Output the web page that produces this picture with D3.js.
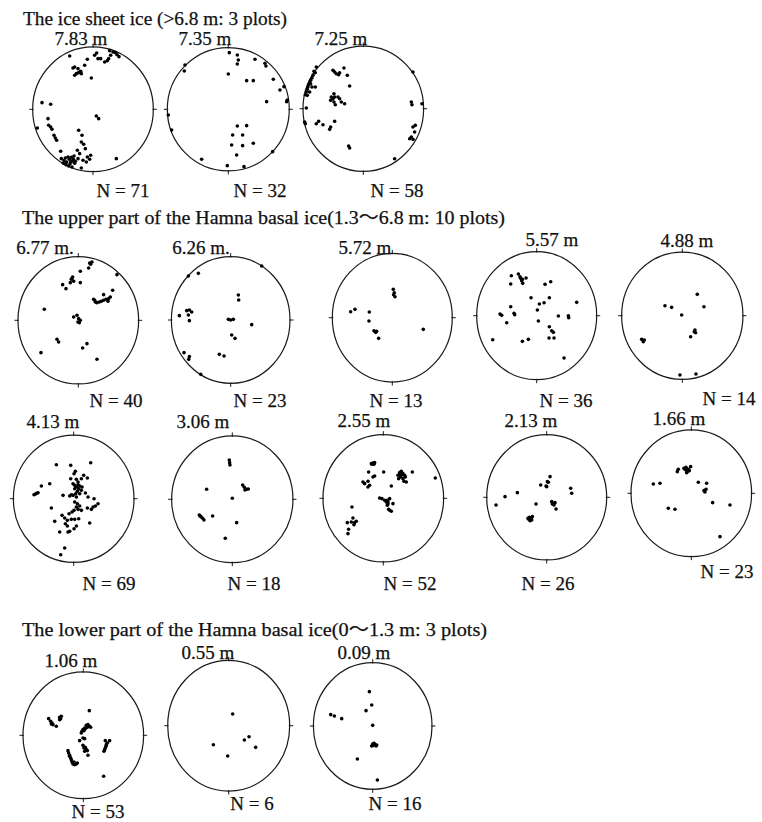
<!DOCTYPE html>
<html><head><meta charset="utf-8">
<script src="https://cdn.jsdelivr.net/npm/d3@7"></script>
<style>
body{margin:0;background:#fff}
svg text{font-family:"Liberation Serif","Times New Roman","Noto Sans CJK JP",serif;fill:#111;stroke:#111;stroke-width:0.25}
</style></head>
<body><svg id="chart" width="762" height="822"></svg>
<script>
// ---------- DATA ----------
const groupTitles = [
  "The ice sheet ice (>6.8 m: 3 plots)",
  "The upper part of the Hamna basal ice(1.3\uFF5E6.8 m: 10 plots)",
  "The lower part of the Hamna basal ice(0\uFF5E1.3 m: 3 plots)"
];
const depths = ["7.83 m","7.35 m","7.25 m","6.77 m.","6.26 m.","5.72 m","5.57 m","4.88 m",
  "4.13 m","3.06 m","2.55 m","2.13 m","1.66 m","1.06 m","0.55 m","0.09 m"];
const counts = [71,32,58,40,23,13,36,14,69,18,52,26,23,53,6,16];
// net radius (projection units) horizontally / vertically (scan is slightly stretched)
const netRx = [181,183,181,181,178,180,180,182,181,182,181,180,181,181,183,178];
const netRy = [187,185,188,191,190,193,192,191,191,190,191,188,190,190,196,190];

// c-axis poles, projection coordinates (x east, y north)
const p783 = [[-70,160],[-17,150],[11,169],[15,152],[23,152],[35,142],[47,152],[53,162],[50,176],[67,170],
 [72,164],[78,158],[-25,132],[-55,127],[-45,122],[-37,114],[-50,107],[-55,102],[-35,107],[-5,94],
 [-43,110],[-153,20],[-127,15],[10,-20],[17,-28],[-167,-56],[-135,-28],[-133,-48],[-127,-53],[-123,-60],
 [-117,-78],[-113,-86],[-109,-93],[-43,-63],[-33,-78],[-35,-98],[-47,-123],[-23,-118],[-97,-126],[-95,-148],
 [-87,-154],[-79,-158],[-71,-150],[-65,-144],[-59,-150],[-67,-158],[-89,-162],[-81,-166],[-73,-170],[-63,-173],
 [-55,-162],[-45,-148],[-35,-176],[-30,-153],[-20,-158],[-10,-150],[-7,-138],[70,-148],[-75,-143],[-63,-156],
 [-57,-140],[-53,-156],[-69,-164],[-83,-146],[-17,-143],[-40,-133],[-28,-105],[43,146],[60,172],[5,162],[-60,124]];
const p735 = [[3,170],[27,163],[30,148],[27,136],[-130,133],[-132,115],[80,150],[110,138],[113,130],[0,106],
 [55,86],[75,86],[135,90],[167,68],[155,58],[177,28],[115,23],[-180,-17],[-170,-62],[27,-50],
 [55,-49],[13,-77],[43,-77],[75,-102],[10,-107],[25,-137],[43,-109],[133,-127],[-80,-150],[-3,-169],
 [47,-172],[175,23]];
const p725 = [[-141,125],[-144,108],[-151,100],[-154,92],[-158,85],[-161,78],[-164,72],[-166,65],[-168,58],[-171,50],
 [-174,42],[-168,40],[-161,50],[-154,65],[-158,75],[-144,65],[-171,2],[-176,-40],[-174,-45],[-148,112],
 [-91,115],[-86,110],[-81,105],[-74,102],[-71,108],[-58,122],[-48,100],[-41,68],
 [-96,35],[-91,30],[-98,25],[-86,35],[-88,45],[-76,35],[-71,30],[-88,20],[-84,12],[-66,20],[-56,15],
 [-141,-45],[-134,-38],[-121,-48],[-98,-55],[-101,-62],[-86,-38],[-44,-112],[-41,-118],[94,-150],
 [149,110],[144,20],[146,12],[176,15],[149,-55],[156,-50],[154,-70],[144,-85],[139,-90],[149,-92]];
const p677 = [[34,172],[41,175],[37,168],[31,157],[6,147],[116,137],[-17,130],[-21,123],[-14,117],[-24,113],
 [-19,125],[6,113],[-47,107],[-37,95],[103,90],[76,77],[46,63],[51,55],[56,53],[63,55],
 [69,57],[76,60],[83,63],[91,65],[96,70],[89,57],[49,60],[-102,33],[-14,10],[-4,15],
 [1,5],[-1,-5],[6,0],[-64,-57],[-59,-65],[26,-70],[13,-83],[-112,-97],[56,-117],[3,-7]];
const p626 = [[93,162],[-127,132],[-97,140],[-154,13],[-132,28],[-124,30],[-117,24],[-127,15],[-124,-2],[23,75],
 [24,60],[-7,2],[0,0],[8,2],[63,-14],[3,-45],[13,-55],[-140,-98],[-124,-110],[-126,-118],
 [-34,-103],[-20,-108],[-90,-163]];
const p572 = [[3,85],[6,75],[8,63],[4,69],[-125,18],[-112,25],[-69,17],[-70,-10],[-55,-39],[-50,-44],
 [-47,-41],[-41,-62],[93,-35]];
const p557 = [[-76,120],[-55,125],[-48,112],[-43,109],[-32,113],[-50,117],[-78,95],[-42,97],[25,94],[42,102],
 [-17,54],[38,54],[8,35],[22,39],[2,17],[120,40],[-78,27],[-110,5],[-105,1],[-68,7],
 [-66,3],[-90,-21],[5,-16],[65,-1],[95,0],[96,-6],[38,-33],[45,-45],[50,-50],[37,-67],
 [52,-67],[-132,-72],[-43,-77],[-25,-71],[82,-127],[-45,105]];
const p488 = [[45,64],[65,27],[-52,30],[-32,25],[-2,2],[38,-43],[40,-51],[36,-48],[25,-63],[-122,-71],
 [-117,-78],[-114,-73],[-7,-178],[41,-175]];
const p413 = [[-52,102],[-9,100],[51,108],[5,82],[1,75],[-9,60],[8,58],[23,60],[41,62],[-97,38],
 [-72,45],[-119,12],[-115,14],[-111,16],[-107,18],[-2,45],[3,40],[8,35],[13,42],[18,38],
 [15,30],[3,30],[23,25],[11,22],[18,15],[6,15],[-2,10],[-7,12],[-12,8],[-32,10],
 [35,17],[43,5],[61,0],[73,-15],[3,-10],[11,-15],[8,-25],[18,-22],[13,-32],[23,-35],
 [1,-35],[58,-25],[53,-32],[65,-22],[-67,-28],[41,-28],[-35,-50],[-27,-58],[-19,-65],[-25,-75],
 [-7,-62],[3,-62],[15,-60],[-57,-68],[48,-73],[8,-82],[1,-90],[-17,-100],[-12,-98],[-19,-82],
 [-42,-100],[-27,-148],[-39,-168],[-5,-40],[-14,-45],[30,70],[13,50],[25,35],[8,5]];
const p306 = [[-9,118],[-7,103],[-77,30],[31,43],[36,36],[43,30],[48,31],[38,28],[0,3],[-99,-47],
 [-94,-52],[-89,-57],[-85,-62],[-97,-50],[-59,-50],[13,-70],[-21,-117],[-8,110]];
const p255 = [[-36,104],[-31,106],[-26,107],[-34,102],[-28,102],[-44,79],[-31,64],[-26,67],[-61,49],[-56,44],
 [-46,51],[-41,39],[-46,34],[1,79],[24,37],[49,77],[54,81],[59,74],[64,69],[52,64],
 [46,59],[59,59],[66,64],[62,51],[69,49],[56,71],[44,69],[87,79],[156,61],[49,71],
 [-11,1],[-4,-1],[4,-6],[9,-11],[14,-16],[12,-6],[19,-1],[29,-16],[19,-36],[24,-39],
 [16,-33],[12,-21],[14,-11],[-94,-26],[-91,-59],[-96,-71],[-86,-73],[-81,-69],[-108,-73],[-104,-93],
 [-106,-106],[-88,-79]];
const p213 = [[10,62],[2,47],[0,32],[-18,37],[-88,14],[-125,2],[-152,-23],[-32,-20],[15,-13],[20,-18],
 [25,-16],[28,-35],[72,27],[75,12],[-52,-60],[-48,-63],[-45,-68],[-54,-66],[-50,-70],[-43,-58],
 [-56,-63],[5,45],[17,-20],[22,-23],[-47,-66],[-2,34]];
const p166 = [[-42,65],[-39,72],[-22,75],[-16,70],[-12,65],[-9,72],[-2,80],[-14,62],[-16,78],[-6,68],
 [-19,72],[-114,28],[-94,30],[21,33],[46,30],[38,8],[44,12],[41,4],[64,-28],[116,-35],
 [-69,-45],[-49,-48],[86,-130]];
const p106 = [[-104,50],[-98,42],[-94,37],[-91,32],[-96,34],[-81,27],[-71,54],[-68,50],[-66,57],[-71,47],
 [18,74],[-1,17],[4,22],[9,30],[14,32],[19,27],[22,24],[-4,12],[2,14],[6,20],
 [12,24],[-11,-16],[-1,-8],[4,-10],[2,-38],[9,-43],[6,-36],[14,-60],[12,-46],[-1,-30],
 [-46,-46],[-44,-53],[-41,-60],[-38,-68],[-36,-73],[-34,-80],[-31,-86],[-26,-88],[-21,-86],[-18,-83],
 [-28,-80],[66,-16],[79,-16],[69,-28],[66,-38],[64,-43],[62,-48],[68,-33],[72,-23],[61,-123],
 [-6,7],[4,-48],[-41,-63]];
const p055 = [[12,35],[-46,-57],[-3,-91],[47,-43],[61,-33],[81,-65]];
const p009 = [[-10,103],[-3,63],[-20,46],[-126,34],[-115,30],[-93,22],[0,2],[0,-54],[7,-56],[12,-57],
 [4,-52],[-3,-60],[2,-58],[10,-60],[-46,-99],[14,-162]];
const allPoints = [p783,p735,p725,p677,p626,p572,p557,p488,p413,p306,p255,p213,p166,p106,p055,p009];

// ---------- LAYOUT (pixels) ----------
const centers = [[93,109.3],[228.3,109.3],[363.3,108.7],[78.3,320.3],[230.7,320],[392.3,317.7],[536.7,315.7],[682.3,315.7],
  [73.7,498.7],[232.3,499.3],[383.3,498.3],[546.7,497.3],[691.3,493.3],[83.3,735.3],[228.7,725.7],[372.7,726]];
const depthPos = [[81,45],[205,45],[341,45],[45,254],[201,254],[365,254],[552,246],[687,247],
  [53,428],[203,428],[364,427],[531,427],[679,425],[71,667],[208,659],[364,659]];
const nPos = [[123,197],[260,197],[397,197],[116,407],[260,407],[396,407],[566,407],[729,405],
  [109,590],[254,590],[410,590],[548,590],[727,578],[98,818],[252,810],[395,810]];
const titlePos = [[23,25],[22,224],[22,636]];
const titleLen = [264,483,465];
const PX = 1/3; // pixels per projection unit

const svg = d3.select("#chart");

svg.selectAll("text.title").data(groupTitles).join("text")
  .attr("class","title")
  .attr("x",(d,i)=>titlePos[i][0]).attr("y",(d,i)=>titlePos[i][1])
  .attr("textLength",(d,i)=>titleLen[i]).attr("lengthAdjust","spacingAndGlyphs")
  .attr("font-size",19).text(d=>d);

allPoints.forEach((pts,i)=>{
  const [cx,cy] = centers[i];
  const x = d3.scaleLinear().domain([-180,180]).range([cx-180*PX, cx+180*PX]);
  const y = d3.scaleLinear().domain([-180,180]).range([cy+180*PX, cy-180*PX]);
  const g = svg.append("g");
  const rx = x(netRx[i]) - x(0), ry = y(0) - y(netRy[i]);
  g.append("ellipse").attr("cx",x(0)).attr("cy",y(0)).attr("rx",rx).attr("ry",ry)
    .attr("fill","none").attr("stroke","#1a1a1a").attr("stroke-width",1.2);
  // cardinal ticks
  const tk = [[0,1],[1,0],[0,-1],[-1,0]];
  g.selectAll("line").data(tk).join("line")
    .attr("x1",d=>x(0)+d[0]*(rx-1)).attr("y1",d=>y(0)-d[1]*(ry-1))
    .attr("x2",d=>x(0)+d[0]*(rx+3.5)).attr("y2",d=>y(0)-d[1]*(ry+3.5))
    .attr("stroke","#1a1a1a").attr("stroke-width",1);
  g.selectAll("circle").data(pts).join("circle")
    .attr("cx",d=>x(d[0])).attr("cy",d=>y(d[1])).attr("r",1.8).attr("fill","#000");
  g.append("text").attr("x",depthPos[i][0]).attr("y",depthPos[i][1]).attr("text-anchor","middle")
    .attr("font-size",19).text(depths[i]);
  g.append("text").attr("x",nPos[i][0]).attr("y",nPos[i][1]).attr("text-anchor","middle")
    .attr("font-size",19).text("N = "+counts[i]);
});
</script></body></html>
